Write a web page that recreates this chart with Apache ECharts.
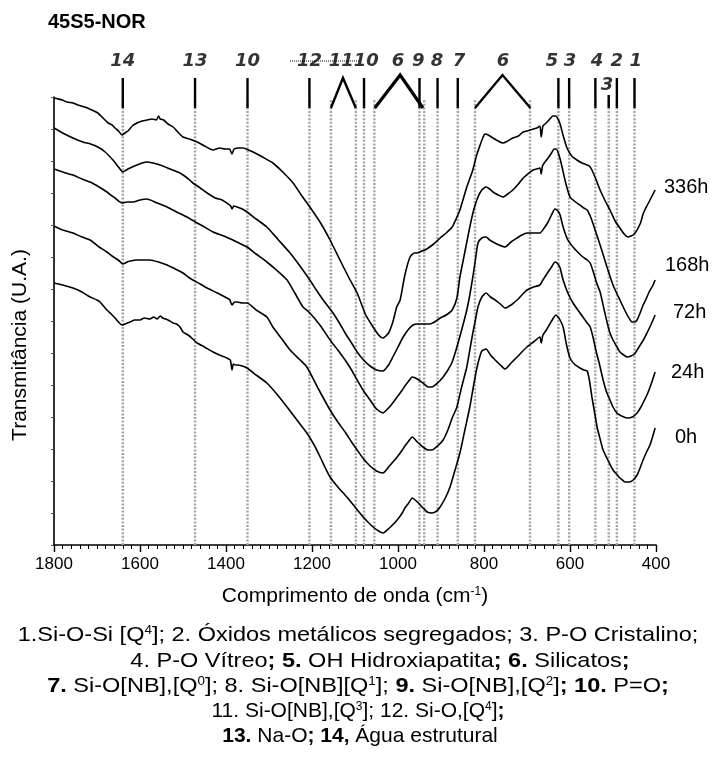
<!DOCTYPE html>
<html>
<head>
<meta charset="utf-8">
<script src="https://cdn.jsdelivr.net/npm/echarts@6/dist/echarts.min.js"></script>
<style>
  html, body { margin: 0; padding: 0; background: #ffffff; }
  #chart { width: 716px; height: 761px; }
</style>
</head>
<body>
<div id="chart"></div>
<script>
// FTIR spectra of 45S5-NOR glass after immersion (transmittance, arbitrary units, stacked)
const curve336h = [[1800,447],[1790,446],[1781,445],[1770,443],[1756,442],[1745,440],[1728,438],[1712,435],[1698,432],[1686,427],[1674,422],[1665,420],[1658,417],[1650,414],[1642,410],[1635,412],[1628,414],[1618,419],[1607,422],[1595,424],[1584,425],[1572,426],[1562,425],[1557,429],[1553,426],[1545,425],[1535,421],[1523,418],[1512,413],[1500,408],[1485,406],[1467,403],[1450,399],[1430,395],[1415,397],[1402,396],[1392,396],[1386,391],[1381,396],[1370,397],[1360,397],[1348,395],[1337,393],[1315,388],[1291,382],[1268,373],[1244,362],[1225,350],[1205,338],[1180,322],[1158,305],[1135,285],[1115,268],[1095,252],[1075,230],[1058,218],[1045,210],[1035,207],[1022,212],[1012,223],[1003,238],[995,245],[984,270],[972,288],[962,292],[956,292],[945,294],[937,295],[920,300],[902,307],[888,312],[874,318],[865,326],[856,335],[840,358],[826,375],[817,390],[809,400],[803,407],[798,411],[790,410],[779,407],[767,404],[756,402],[745,404],[733,407],[720,409],[709,413],[700,414],[693,415],[685,416],[677,417],[670,419],[667,408],[663,419],[658,421],[653,423],[645,427],[640,429],[633,429],[628,426],[623,421],[615,408],[607,397],[596,389],[584,385],[572,382],[560,380],[555,379],[549,375],[540,366],[530,355],[518,344],[507,335],[495,324],[484,317],[474,311],[465,308],[458,309],[453,310],[447,313],[444,315],[436,322],[430,331],[426,335],[420,340],[414,345],[408,350],[402,355]];
const curve168h = [[1800,417],[1780,412],[1756,407],[1733,403],[1715,401],[1698,398],[1681,393],[1663,385],[1650,378],[1640,373],[1632,375],[1623,377],[1607,380],[1595,382],[1584,383],[1570,382],[1553,380],[1530,376],[1507,372],[1490,367],[1477,362],[1460,357],[1444,352],[1425,347],[1409,345],[1395,341],[1389,339],[1386,336],[1382,339],[1374,338],[1362,336],[1351,333],[1330,326],[1305,318],[1280,306],[1251,292],[1228,279],[1205,265],[1190,255],[1174,245],[1151,232],[1135,221],[1123,212],[1108,202],[1095,193],[1080,185],[1065,179],[1050,175],[1035,174],[1022,180],[1012,188],[1000,198],[988,208],[975,216],[965,220],[955,221],[949,221],[935,221],[926,221],[915,223],[902,227],[888,230],[874,235],[863,247],[856,268],[845,292],[833,318],[824,335],[814,348],[805,355],[795,358],[787,356],[779,353],[767,350],[756,348],[745,351],[733,355],[720,361],[709,367],[698,371],[686,375],[678,376],[670,377],[667,371],[664,379],[660,382],[651,387],[643,392],[637,396],[632,396],[628,393],[623,386],[619,379],[610,362],[600,348],[590,344],[577,340],[568,337],[560,335],[553,329],[547,322],[540,313],[530,300],[514,278],[500,260],[484,245],[467,230],[460,225],[456,223],[450,223],[444,225],[437,232],[430,240],[423,246],[416,253],[408,259],[402,265]];
const curve72h = [[1800,376],[1780,373],[1756,370],[1735,366],[1716,363],[1695,358],[1677,353],[1665,349],[1658,347],[1650,344],[1642,342],[1630,343],[1616,343],[1600,345],[1584,346],[1560,342],[1537,338],[1515,333],[1491,328],[1467,322],[1450,318],[1430,313],[1405,309],[1384,305],[1365,301],[1351,298],[1330,291],[1305,283],[1280,274],[1258,265],[1240,252],[1221,238],[1205,232],[1180,219],[1158,205],[1140,195],[1123,185],[1108,175],[1095,165],[1080,154],[1065,145],[1050,136],[1035,132],[1020,138],[1002,148],[990,155],[984,159],[975,164],[967,168],[955,166],[942,162],[930,158],[921,158],[908,162],[895,168],[884,175],[874,183],[863,198],[852,215],[840,235],[833,250],[826,268],[820,285],[814,302],[805,307],[795,308],[787,305],[779,303],[765,300],[751,298],[737,303],[723,307],[712,310],[700,312],[685,312],[670,312],[660,317],[651,323],[643,330],[635,336],[628,334],[623,330],[616,318],[605,305],[593,298],[580,292],[570,288],[560,285],[553,282],[545,272],[538,262],[530,253],[522,238],[514,223],[507,212],[500,205],[492,199],[484,193],[475,190],[467,188],[458,189],[450,191],[444,195],[435,201],[428,206],[421,212],[412,220],[402,230]];
const curve24h = [[1800,319],[1780,315],[1756,312],[1735,308],[1716,305],[1695,298],[1677,293],[1665,289],[1658,287],[1648,284],[1640,281],[1630,283],[1623,284],[1607,285],[1590,285],[1577,285],[1557,283],[1537,280],[1518,276],[1500,272],[1488,268],[1477,265],[1460,261],[1444,257],[1420,252],[1398,247],[1391,245],[1386,240],[1380,243],[1374,243],[1362,242],[1351,242],[1330,235],[1305,228],[1291,218],[1270,206],[1251,195],[1230,186],[1212,178],[1185,156],[1158,135],[1140,123],[1123,113],[1108,103],[1095,95],[1080,86],[1065,79],[1050,74],[1035,72],[1020,79],[1002,88],[990,95],[984,99],[975,104],[967,108],[955,103],[942,98],[930,95],[921,95],[908,99],[895,105],[884,115],[874,127],[863,138],[852,158],[840,178],[833,195],[826,212],[820,225],[814,238],[805,248],[795,252],[785,248],[774,245],[762,241],[751,237],[737,240],[723,245],[712,250],[700,255],[685,258],[670,260],[663,265],[657,269],[651,273],[643,278],[635,283],[628,281],[623,277],[616,265],[605,252],[593,242],[580,234],[570,228],[560,222],[553,218],[546,207],[540,195],[531,180],[523,165],[515,153],[507,145],[500,138],[491,132],[480,129],[467,127],[455,128],[444,132],[435,138],[428,144],[421,150],[412,160],[402,173]];
const curve0h = [[1800,262],[1780,260],[1756,257],[1735,253],[1716,248],[1700,245],[1693,243],[1685,239],[1677,235],[1667,231],[1658,227],[1650,223],[1642,220],[1635,221],[1623,223],[1612,225],[1600,225],[1590,227],[1577,226],[1568,228],[1560,226],[1553,229],[1547,227],[1535,225],[1523,222],[1515,221],[1507,218],[1500,213],[1485,209],[1467,202],[1450,198],[1430,193],[1415,190],[1398,187],[1390,185],[1386,175],[1383,181],[1378,180],[1374,180],[1362,179],[1351,177],[1330,170],[1305,162],[1280,150],[1258,138],[1235,125],[1212,112],[1195,100],[1181,88],[1170,78],[1158,68],[1140,58],[1119,48],[1100,38],[1081,28],[1070,23],[1058,18],[1045,14],[1035,12],[1020,17],[1002,25],[990,32],[984,37],[975,42],[967,47],[955,43],[944,38],[932,33],[921,32],[910,34],[902,38],[890,47],[879,58],[868,74],[856,92],[845,114],[833,138],[824,160],[816,178],[810,188],[805,194],[795,196],[785,190],[774,185],[762,180],[751,176],[737,182],[723,188],[712,193],[700,198],[685,203],[670,208],[667,202],[663,210],[655,215],[647,221],[640,226],[633,230],[628,228],[623,225],[616,218],[608,200],[600,187],[590,181],[577,177],[568,175],[560,174],[555,165],[549,148],[543,133],[537,118],[530,106],[523,95],[512,85],[500,75],[492,71],[484,67],[478,65],[472,63],[462,63],[453,65],[444,70],[438,76],[430,85],[422,93],[414,100],[408,108],[402,117]];

const seriesNames = ['336h', '168h', '72h', '24h', '0h'];
const seriesData = [curve336h, curve168h, curve72h, curve24h, curve0h];

// band assignments (cm-1)
const guideLines = [1640, 1472, 1350, 1206, 1156, 1098, 1079, 1055, 950, 939, 908, 861, 821, 693, 627, 602, 541, 510, 491, 450];
const tickBands = [1640, 1472, 1350, 1206, 1079, 950, 908, 861, 627, 602, 541, 491, 450];
const shortTickBands = [510];
const caretBands = [[1156, 1128, 1098], [1054, 995, 942], [821, 757, 692]];
const bandLabelNames = ['14', '13', '10', '12', '11', '10', '6', '9', '8', '7', '6', '5', '3', '4', '2', '1'];
const bandLabelPos = [1640, 1472, 1350, 1206, 1132, 1074, 1000, 953, 909, 858, 756, 642, 600, 537, 491, 447];
const lowLabelNames = ['3'];
const lowLabelPos = [514];
const dottedSpan = [1251, 1088];

const xTicks = { min: 400, max: 1800, step: 200 };

// layout constants
const GUIDE_TOP = 445;
const TICK_H = 30, SHORT_TICK_H = 13, CARET_H = [30, 33, 33], CARET_W = [2.4, 3.2, 2.4];
const LABEL_LEVEL = 47, LOW_LABEL_LEVEL = 23;

function broken(segments) {
  const out = [];
  segments.forEach(seg => { seg.forEach(p => out.push(p)); out.push([seg[0][0], '-']); });
  return out;
}

const chart = echarts.init(document.getElementById('chart'), null, { renderer: 'canvas' });

const series = [];

series.push({
  type: 'line', xAxisIndex: 0, yAxisIndex: 0, z: 1, silent: true,
  showSymbol: false, symbol: 'none', connectNulls: false,
  lineStyle: { color: '#a3a3a3', width: 2.4, type: [2, 1.6] },
  data: broken(guideLines.map(w => [[w, 0], [w, GUIDE_TOP]]))
});

seriesData.forEach((d, i) => {
  series.push({
    name: seriesNames[i], type: 'line', xAxisIndex: 0, yAxisIndex: 0, z: 3,
    showSymbol: false, symbol: 'none', smooth: 0.2,
    lineStyle: { color: '#000000', width: 1.6 },
    data: d
  });
});

series.push({
  type: 'line', xAxisIndex: 1, yAxisIndex: 1, silent: true, showSymbol: false, symbol: 'none',
  lineStyle: { color: '#000000', width: 2.4 },
  data: broken(tickBands.map(w => [[w, 0], [w, TICK_H]]).concat(shortTickBands.map(w => [[w, 0], [w, SHORT_TICK_H]])))
});

caretBands.forEach((c, i) => {
  series.push({
    type: 'line', xAxisIndex: 1, yAxisIndex: 1, silent: true, showSymbol: false, symbol: 'none',
    lineStyle: { color: '#000000', width: CARET_W[i], join: 'miter' },
    data: [[c[0], 0], [c[1], CARET_H[i]], [c[2], 0]]
  });
});

series.push({
  type: 'line', xAxisIndex: 1, yAxisIndex: 1, silent: true, showSymbol: false, symbol: 'none', z: 1,
  lineStyle: { color: '#000000', width: 1, type: [1, 1] },
  data: [[dottedSpan[0], LABEL_LEVEL], [dottedSpan[1], LABEL_LEVEL]]
});

const labelFont = { fontFamily: 'DejaVu Sans', fontStyle: 'italic', fontWeight: 'bold', fontSize: 18, color: '#000000' };
series.push({
  type: 'scatter', xAxisIndex: 1, yAxisIndex: 1, silent: true, symbolSize: 1, z: 4,
  itemStyle: { color: 'rgba(0,0,0,0)' },
  label: Object.assign({ show: true, position: 'inside', formatter: p => bandLabelNames[p.dataIndex] }, labelFont),
  data: bandLabelPos.map(w => [w, LABEL_LEVEL])
});
series.push({
  type: 'scatter', xAxisIndex: 1, yAxisIndex: 1, silent: true, symbolSize: 1, z: 4,
  itemStyle: { color: 'rgba(0,0,0,0)' },
  label: Object.assign({ show: true, position: 'inside', formatter: p => lowLabelNames[p.dataIndex] }, labelFont),
  data: lowLabelPos.map(w => [w, LOW_LABEL_LEVEL])
});

const sansFont = 'Liberation Sans, Arial, sans-serif';

const captionLines = [
  { x: 358, y: 635, sx: 1.12, text: '1.Si-O-Si [Q{sup|4}]; 2. Óxidos metálicos segregados; 3. P-O Cristalino;' },
  { x: 380, y: 661, sx: 1.12, text: '4. P-O Vítreo{b|; 5.} OH Hidroxiapatita{b|; 6.} Silicatos{b|;}' },
  { x: 358, y: 686, sx: 1.12, text: '{b|7.} Si-O[NB],[Q{sup|0}]; 8. Si-O[NB][Q{sup|1}]; {b|9.} Si-O[NB],[Q{sup|2}]{b|; 10.} P=O{b|;}' },
  { x: 358, y: 711, sx: 1.0, text: '11. Si-O[NB],[Q{sup|3}]; 12. Si-O,[Q{sup|4}]{b|;}' },
  { x: 360, y: 736, sx: 1.0, text: '{b|13.} Na-O{b|; 14,} Água estrutural' }
];
const captionSize = 21;
const captionRich = {
  b: { fontWeight: 'bold', fontSize: captionSize, fontFamily: sansFont, fill: '#000' },
  sup: { fontSize: 12, fontFamily: sansFont, verticalAlign: 'top', fill: '#000' }
};

const curveLabels = [
  { x: 664, y: 187, t: '336h' },
  { x: 665, y: 265, t: '168h' },
  { x: 673, y: 312, t: '72h' },
  { x: 671, y: 372, t: '24h' },
  { x: 675, y: 437, t: '0h' }
];

const graphic = [
  { type: 'text', x: 48, y: 22, style: { text: '45S5-NOR', fontFamily: sansFont, fontWeight: 'bold', fontSize: 20, fill: '#000', align: 'left', verticalAlign: 'middle' } },
  { type: 'text', x: 20, y: 345, rotation: Math.PI / 2, style: { text: 'Transmitância (U.A.)', fontFamily: sansFont, fontSize: 21, fill: '#000', align: 'center', verticalAlign: 'middle' } }
].concat(curveLabels.map(l => ({
  type: 'text', x: l.x, y: l.y, style: { text: l.t, fontFamily: sansFont, fontSize: 20, fill: '#000', align: 'left', verticalAlign: 'middle' }
}))).concat(captionLines.map(l => ({
  type: 'text', x: l.x, y: l.y, scaleX: l.sx, style: { text: l.text, rich: captionRich, fontFamily: sansFont, fontSize: captionSize, fill: '#000', align: 'center', verticalAlign: 'middle' }
})));

chart.setOption({
  animation: false,
  backgroundColor: '#ffffff',
  grid: [
    { left: 54, right: 60, top: 97, bottom: 216, containLabel: false },
    { left: 54, right: 60, top: 40, bottom: 653, containLabel: false }
  ],
  xAxis: [
    {
      gridIndex: 0, type: 'value', min: xTicks.min, max: xTicks.max, interval: xTicks.step, inverse: true,
      axisLine: { show: true, onZero: false, lineStyle: { color: '#000', width: 1.6 } },
      axisTick: { show: true, inside: false, length: 7, lineStyle: { color: '#000', width: 1.4 } },
      minorTick: { show: true, splitNumber: 10, length: 4, lineStyle: { color: '#000', width: 1 } },
      axisLabel: { show: true, fontFamily: sansFont, fontSize: 17, color: '#000', margin: 11, formatter: v => String(v) },
      splitLine: { show: false },
      name: 'Comprimento de onda (cm{sup|-1})', nameLocation: 'middle', nameGap: 41,
      nameTextStyle: { fontFamily: sansFont, fontSize: 21, color: '#000',
        rich: { sup: { fontFamily: sansFont, fontSize: 12, color: '#000', verticalAlign: 'top' } } }
    },
    { gridIndex: 1, type: 'value', min: xTicks.min, max: xTicks.max, inverse: true, show: false }
  ],
  yAxis: [
    {
      gridIndex: 0, type: 'value', min: 0, max: 448, interval: 32,
      axisLine: { show: true, onZero: false, lineStyle: { color: '#000', width: 1.6 } },
      axisTick: { show: true, inside: false, length: 3, lineStyle: { color: '#555', width: 1 } },
      axisLabel: { show: false }, splitLine: { show: false }
    },
    { gridIndex: 1, type: 'value', min: 0, max: 68, show: false }
  ],
  series: series,
  graphic: graphic
});
</script>
</body>
</html>
